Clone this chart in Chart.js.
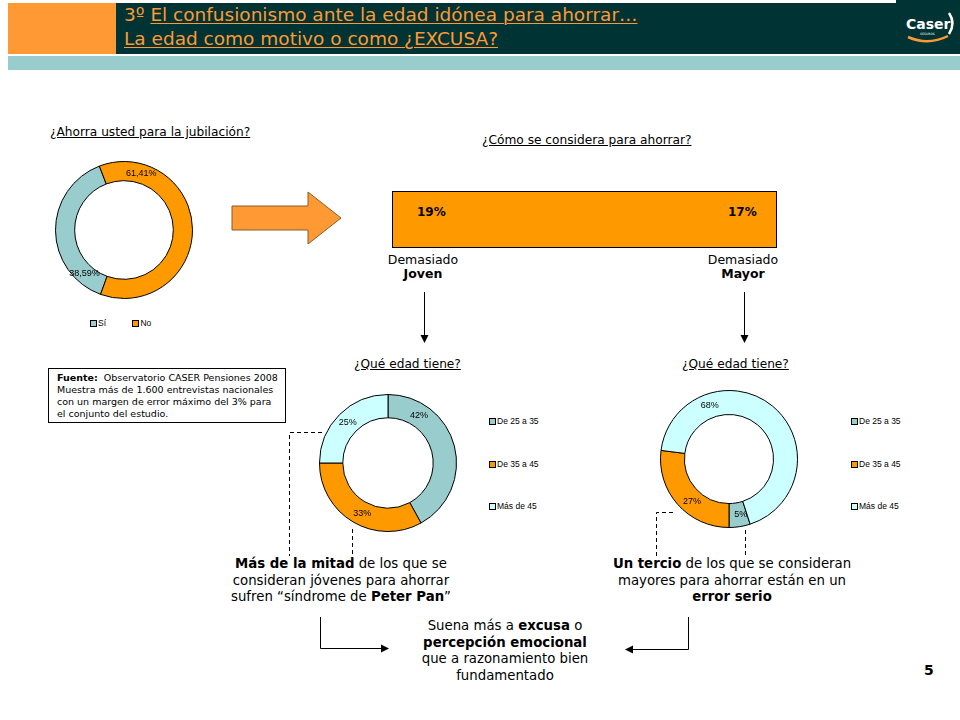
<!DOCTYPE html>
<html lang="es">
<head>
<meta charset="utf-8">
<title>La edad como motivo o como ¿EXCUSA?</title>
<script src="https://cdn.jsdelivr.net/npm/chart.js@4.4.1/dist/chart.umd.min.js"></script>
<style>
  html, body { margin: 0; padding: 0; }
  body { width: 960px; height: 720px; position: relative; background: #fff; overflow: hidden; font-family: 'DejaVu Sans', sans-serif; color: #000; }
  .abs { position: absolute; }
  .header-top { left: 896px; top: 0; width: 64px; height: 3px; background: #003333; }
  .header-orange { left: 8px; top: 3px; width: 108px; height: 51px; background: #FF9933; }
  .header-dark { left: 116px; top: 3px; width: 844px; height: 51px; background: #003333; }
  .header-bar { left: 8px; top: 56px; width: 952px; height: 14px; background: #99CCCC; }
  .title { left: 124px; top: 3px; font-size: 18.5px; line-height: 24px; color: #FF9933; white-space: nowrap; }
  .title u { text-decoration-thickness: 1px; text-underline-offset: 2px; }
  .q { font-size: 12.2px; text-decoration: underline; white-space: nowrap; }
  .center-text { text-align: center; font-size: 13.3px; line-height: 16.5px; white-space: nowrap; }
  .pct { font-size: 12px; font-weight: bold; }
  .source { left: 48px; top: 368px; border: 1px solid #000; font-size: 9.5px; line-height: 12px; padding: 3px 0 0 8px; box-sizing: border-box; width: 238px; height: 55px; white-space: nowrap; }
  .legend { font-family: 'Liberation Sans', sans-serif; font-size: 8.5px; white-space: nowrap; }
  .legend span.box { display: inline-block; width: 5px; height: 5px; border: 1px solid #000; margin-right: 1px; vertical-align: -1px; }
  .page-num { left: 924px; top: 662px; font-size: 14px; font-weight: bold; }
</style>
</head>
<body>

<!-- Header -->
<div class="abs header-top"></div>
<div class="abs header-orange"></div>
<div class="abs header-dark"></div>
<div class="abs header-bar"></div>
<div class="abs title">3º <u>El confusionismo ante la edad idónea para ahorrar…</u><br><u>La edad como motivo o como ¿EXCUSA?</u></div>
<svg class="abs" style="left:900px;top:6px" width="58" height="44">
  <text x="6" y="23" fill="#fff" font-family="DejaVu Sans" font-weight="bold" font-size="14">Caser</text>
  <path d="M49 7 Q56 17 49 28" stroke="#fff" stroke-width="2.5" fill="none"/>
  <path d="M8 31 Q28 40 48 30" stroke="#FF9933" stroke-width="2.5" fill="none"/>
  <text x="20" y="29" fill="#fff" font-family="DejaVu Sans" font-size="3">SEGUROS</text>
</svg>

<!-- Questions -->
<div class="abs q" style="left:50px;top:125px">¿Ahorra usted para la jubilación?</div>
<div class="abs q" style="left:482px;top:133px">¿Cómo se considera para ahorrar?</div>
<div class="abs q" style="left:354px;top:357px">¿Qué edad tiene?</div>
<div class="abs q" style="left:682px;top:357px">¿Qué edad tiene?</div>

<!-- Donut charts -->
<canvas id="savingChart" class="abs" width="138" height="138" style="left:55px;top:161px"></canvas>
<canvas id="youngChart" class="abs" width="138" height="138" style="left:319px;top:394px"></canvas>
<canvas id="oldChart" class="abs" width="138" height="138" style="left:660px;top:390px"></canvas>

<div id="savingLegend" class="abs legend" style="left:90px;top:318px"></div>
<div id="youngLegend" class="abs legend" style="left:489px;top:416px"></div>
<div id="oldLegend" class="abs legend" style="left:851px;top:416px"></div>

<!-- Perception bar -->
<div class="abs" style="left:392px;top:191px;width:385px;height:57px;background:#FF9900;border:1px solid #000;box-sizing:border-box"></div>
<div id="pctYoung" class="abs pct" style="left:417px;top:205px"></div>
<div id="pctOld" class="abs pct" style="left:728px;top:205px"></div>
<div class="abs center-text" style="left:373px;top:253px;width:100px;line-height:13.5px;font-size:12.5px">Demasiado<br><b>Joven</b></div>
<div class="abs center-text" style="left:693px;top:253px;width:100px;line-height:13.5px;font-size:12.5px">Demasiado<br><b>Mayor</b></div>

<!-- Source box -->
<div class="abs source"><b>Fuente:</b>&nbsp; Observatorio CASER Pensiones 2008<br>Muestra más de 1.600 entrevistas nacionales<br>con un margen de error máximo del 3% para<br>el conjunto del estudio.</div>

<!-- Conclusions -->
<div class="abs center-text" style="left:191px;top:556px;width:300px"><b>Más de la mitad</b> de los que se<br>consideran jóvenes para ahorrar<br>sufren “síndrome de <b>Peter Pan</b>”</div>
<div class="abs center-text" style="left:582px;top:556px;width:300px"><b>Un tercio</b> de los que se consideran<br>mayores para ahorrar están en un<br><b>error serio</b></div>
<div class="abs center-text" style="left:355px;top:618px;width:300px">Suena más a <b>excusa</b> o<br><b>percepción emocional</b><br>que a razonamiento bien<br>fundamentado</div>
<div class="abs page-num">5</div>

<!-- Arrows and connectors -->
<svg class="abs" style="left:0;top:0;pointer-events:none" width="960" height="720">
  <polygon points="232,206 308,206 308,192 341,218 308,244 308,230 232,230" fill="#FF9933" stroke="#8a5a2a" stroke-width="1"/>
  <g stroke="#000" stroke-width="1" fill="none">
    <line x1="424.5" y1="292" x2="424.5" y2="336"/>
    <line x1="744.5" y1="292" x2="744.5" y2="336"/>
    <polyline points="320.5,617 320.5,648.5 382,648.5"/>
    <polyline points="688.5,617 688.5,649.5 632,649.5"/>
  </g>
  <g fill="#000">
    <polygon points="420.5,335 428.5,335 424.5,343"/>
    <polygon points="740.5,335 748.5,335 744.5,343"/>
    <polygon points="381,644.5 381,652.5 389,648.5"/>
    <polygon points="633,645.5 633,653.5 625,649.5"/>
  </g>
  <g stroke="#000" stroke-width="1" stroke-dasharray="4,3" fill="none">
    <polyline points="322,432.5 289.5,432.5 289.5,556"/>
    <line x1="352.5" y1="529" x2="352.5" y2="556"/>
    <polyline points="673,512.5 656.5,512.5 656.5,556"/>
    <line x1="745.5" y1="530" x2="745.5" y2="556"/>
  </g>
</svg>

<script>
// Data
const savingLabels = ['Sí', 'No'];
const savingValues = [38.59, 61.41];
const savingText = ['38,59%', '61,41%'];

const ageLabels = ['De 25 a 35', 'De 35 a 45', 'Más de 45'];
const youngValues = [42, 33, 25];
const oldValues = [5, 27, 68];

const perceptionLabels = ['Demasiado Joven', 'Demasiado Mayor'];
const perceptionValues = [19, 17];

// Colors
const savingColors = ['#99CCCC', '#FF9900'];
const ageColors = ['#99CCCC', '#FF9900', '#CCFFFF'];

// Label placement (degrees clockwise from top, on the ring)
const savingLabelAngles = [222, 17];
const youngLabelAngles = [33, 207, 315];
const oldLabelAngles = [168, 221, 340];

// Ring label plugin
const ringLabels = {
  id: 'ringLabels',
  afterDatasetsDraw(chart, args, opts) {
    const ctx = chart.ctx;
    const arcs = chart.getDatasetMeta(0).data;
    ctx.save();
    ctx.font = '9px "Liberation Sans", sans-serif';
    ctx.fillStyle = '#000';
    ctx.textAlign = 'center';
    ctx.textBaseline = 'middle';
    arcs.forEach((arc, i) => {
      const r = (arc.innerRadius + arc.outerRadius) / 2;
      const a = opts.angles[i] * Math.PI / 180;
      ctx.fillText(opts.texts[i], arc.x + r * Math.sin(a), arc.y - r * Math.cos(a));
    });
    ctx.restore();
  }
};

// Build a doughnut
function renderDonut(id, labels, values, colors, rotation, cutout, angles, texts) {
  const ctx = document.getElementById(id).getContext('2d');
  return new Chart(ctx, {
    type: 'doughnut',
    data: {
      labels: labels,
      datasets: [{
        data: values,
        backgroundColor: colors,
        borderColor: '#000',
        borderWidth: 1
      }]
    },
    options: {
      responsive: false,
      animation: false,
      rotation: rotation,
      cutout: cutout,
      layout: { padding: 0 },
      plugins: {
        legend: { display: false },
        tooltip: { enabled: false },
        ringLabels: { angles: angles, texts: texts }
      }
    },
    plugins: [ringLabels]
  });
}

// Render legend
function renderLegend(id, labels, colors, horizontal) {
  const el = document.getElementById(id);
  el.innerHTML = labels.map((label, i) => `
    <div style="${horizontal ? 'display:inline-block;margin-right:24px' : 'height:42.5px'}">
      <span class="box" style="background:${colors[i]}"></span>${label}
    </div>
  `).join('');
}

renderDonut('savingChart', savingLabels, savingValues, savingColors, 200, '72%', savingLabelAngles, savingText);
renderDonut('youngChart', ageLabels, youngValues, ageColors, 0, '66%', youngLabelAngles, youngValues.map(v => v + '%'));
renderDonut('oldChart', ageLabels, oldValues, ageColors, 162, '65%', oldLabelAngles, oldValues.map(v => v + '%'));

renderLegend('savingLegend', savingLabels, savingColors, true);
renderLegend('youngLegend', ageLabels, ageColors, false);
renderLegend('oldLegend', ageLabels, ageColors, false);

document.getElementById('pctYoung').textContent = perceptionValues[0] + '%';
document.getElementById('pctOld').textContent = perceptionValues[1] + '%';
</script>
</body>
</html>
